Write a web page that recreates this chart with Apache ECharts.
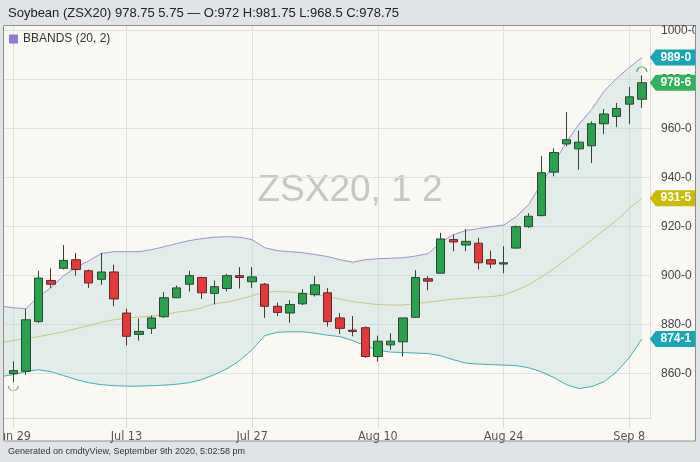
<!DOCTYPE html>
<html><head><meta charset="utf-8">
<script src="https://cdn.jsdelivr.net/npm/echarts@6/dist/echarts.min.js"></script>
<style>html,body{margin:0;padding:0;background:#e1e4e7;} #c{width:700px;height:462px;}</style>
</head><body><div id="c"></div>
<script>
// ---- data ----
// trading days; the band arrays start one day before the first candle
const dates = ['Jun 26','Jun 29','Jun 30','Jul 1','Jul 2','Jul 6','Jul 7','Jul 8','Jul 9','Jul 10',
  'Jul 13','Jul 14','Jul 15','Jul 16','Jul 17','Jul 20','Jul 21','Jul 22','Jul 23','Jul 24',
  'Jul 27','Jul 28','Jul 29','Jul 30','Jul 31','Aug 3','Aug 4','Aug 5','Aug 6','Aug 7',
  'Aug 10','Aug 11','Aug 12','Aug 13','Aug 14','Aug 17','Aug 18','Aug 19','Aug 20','Aug 21',
  'Aug 24','Aug 25','Aug 26','Aug 27','Aug 28','Aug 31','Sep 1','Sep 2','Sep 3','Sep 4',
  'Sep 8','Sep 9'];
// candles from Jun 29 to Sep 9
const openP  = [860,861,881.25,898,903,906.5,902,898.5,901.5,
  884.75,876,878.5,883.25,891,896.5,899.25,892.75,894.75,900,
  897.5,896.5,887.5,884.75,888.5,892.25,893,882.75,877.75,878.75,
  867,871.75,873,883,898.75,901,914.75,912.5,913.25,906.5,
  904.75,911.25,920,924.5,942.25,953.75,951.75,953,962,965,
  970,972];
const highP  = [865,886.5,902,903,912.5,909.25,902.5,909.25,904.5,
  886.5,882.5,883.75,893.25,896,902,899.5,898,900.75,903.5,
  903.5,897,889,890,894.5,899.75,895,884.75,883.5,879.25,
  875.5,876.5,882.75,902.25,899.75,917.5,916.75,919,915.5,910.25,
  912,920.5,925.5,948.75,952,966.75,959.25,963,968,970.5,
  977,981.75];
const lowP   = [856.5,859.5,880.75,895,902.5,900,895,896.25,887.5,
  871.5,873.5,876.25,882.75,890.75,893.5,890.5,888.25,893.5,894.75,
  895,882.75,883.5,880.75,888,891.5,879.25,876.25,875.25,866.5,
  865,869.75,867,882.75,894,901,910,910,902.5,903,
  901,911,919.5,924.25,940.5,952.75,943.25,946,957.75,960.75,
  962,968.5];
const closeP = [861.25,882,899,896.5,906.25,902.5,897,901.5,890.5,
  875.25,877.25,882.75,891,895,900,893,895.5,900,899.25,
  899.5,887.5,885,888.25,892.75,896.25,881.25,878.5,877.25,867,
  873.25,873.25,882.75,899.25,897.75,915,913.75,914,905.25,904.75,
  905.25,920,924.25,942,950.25,955.5,954.5,962,966,968.25,
  973,978.75];
const upperBand = [887.6,886.9,886.5,891.4,895.1,900,903.3,906.1,909,909.8,
  909.8,909.8,910.6,911.8,913.1,914.3,915.1,915.7,915.9,915.7,
  914.7,911.4,910.2,909.8,909.4,908.6,907.8,906.5,905.5,906.5,
  906.9,907.1,907.3,908,909,913.5,916.7,918.4,919.2,920,
  920.6,924,929,937.4,945.7,954.6,961.8,967.8,975.3,980.5,
  985,989];
const middleBand = [872.7,873.5,874.3,875.1,876.1,877.1,878.4,879.6,881,882,
  882.7,883.1,883.5,884.1,885.1,885.7,886.9,888.6,889.2,890.4,
  891.8,893.3,893.5,893.3,892.9,892.2,891.6,890.4,889.4,888.8,
  888.2,888,888,888.6,889.2,889.8,890.4,890.8,891.2,891.4,
  892.1,894,896.3,899.4,902.8,906.7,910.6,914.6,918.6,922.6,
  927.4,931.625];
const lowerBand = [858.8,859.6,860.8,861.6,860.8,859.2,857.6,856.3,855.5,855.1,
  854.9,854.9,855.1,855.3,855.7,856.3,857.6,859.6,862,865.3,
  869.8,875.5,876.9,877.1,877.1,876.5,875.7,875.1,873.5,871.4,
  869.6,868.8,868.6,868.4,868.2,867.3,865.7,864.3,863.9,863.7,
  863.5,863.3,862.4,860.8,858.4,855.5,853.9,854.7,856.7,860.8,
  866.5,874.125];
const xTickLabels = ['Jun 29','Jul 13','Jul 27','Aug 10','Aug 24','Sep 8'];
const yTickValues = [860,880,900,920,940,960,980,1000];
const titleText = 'Soybean (ZSX20) 978.75 5.75 \u2014 O:972 H:981.75 L:968.5 C:978.75';
const legendText = 'BBANDS (20, 2)';
const watermarkText = 'ZSX20, 1 2';
const footerText = 'Generated on cmdtyView, September 9th 2020, 5:02:58 pm';

// ---- helpers ----
const pos = dates.map((d, i) => i);
const last = dates.length - 1;
const firstTick = dates.indexOf(xTickLabels[0]);
const candleStart = dates.indexOf('Jun 29');
const cLast = closeP.length - 1;
const fmt = v => Math.floor(v) + '-' + Math.round((v - Math.floor(v)) * 8);
const FONT = "'Liberation Sans', Arial, sans-serif";
const NARROW = "'Liberation Sans Narrow', 'DejaVu Sans Condensed', 'Liberation Sans', sans-serif";
const BG = '#e1e4e7';
const tagPath = 'path://M0,8 L6,0 L46,0 L46,16 L6,16 Z';

function tag(value, color, x) {
  return {
    coord: [x, value], value: value,
    symbol: tagPath, symbolSize: [46, 16], symbolKeepAspect: false,
    symbolOffset: [31, 0],
    itemStyle: { color: color },
    label: { show: true, position: 'inside', offset: [3, 0], color: '#fff',
      fontWeight: 'bold', fontSize: 12, fontFamily: FONT, formatter: p => fmt(p.value) }
  };
}

const chart = echarts.init(document.getElementById('c'), null, { renderer: 'canvas' });
chart.setOption({
  animation: false,
  backgroundColor: 'transparent',
  grid: { left: 4, right: 50, top: 26, bottom: 44, containLabel: false, outerBoundsMode: 'none' },
  legend: {
    left: 9, top: 33, padding: 0, itemWidth: 9, itemHeight: 9, icon: 'rect',
    selectedMode: false,
    data: [{ name: legendText, itemStyle: { color: '#8f7ad6' } }],
    textStyle: { fontSize: 12, color: '#333', fontFamily: FONT }
  },
  xAxis: {
    type: 'value', min: firstTick - 0.74, max: firstTick + 50.65,
    axisLine: { show: true, lineStyle: { color: '#d9d9d9' } },
    axisTick: { show: true, length: 10, lineStyle: { color: '#d9d9d9' },
      customValues: xTickLabels.map(l => dates.indexOf(l)) },
    axisLabel: { customValues: xTickLabels.map(l => dates.indexOf(l)),
      formatter: v => dates[Math.round(v)], color: '#555', fontSize: 12.5,
      fontFamily: NARROW, margin: 12 },
    splitLine: { show: true, lineStyle: { color: '#e0e0e0' } }
  },
  yAxis: {
    type: 'value', position: 'right', min: 841.9, max: 1001.9, scale: true,
    axisLine: { show: true, lineStyle: { color: '#dcdcdc' } },
    axisTick: { show: false, customValues: yTickValues },
    axisLabel: { customValues: yTickValues, formatter: v => fmt(v), color: '#444',
      fontSize: 12, fontFamily: FONT, margin: 11, align: 'left' },
    splitLine: { show: true, lineStyle: { color: '#e0e0e0' } }
  },
  graphic: [
    { type: 'rect', z: -100, shape: { x: 3.5, y: 25.5, width: 692, height: 415.5 },
      style: { fill: '#faf8f3', stroke: '#8e8e8e', lineWidth: 1 } },
    { type: 'text', z: -50, x: 350, y: 191,
      style: { text: watermarkText, fill: '#c6c6c6', font: "37px 'Liberation Sans', Arial, sans-serif",
        align: 'center', verticalAlign: 'middle' } },
    { type: 'text', z: 10, x: 8, y: 13,
      style: { text: titleText, fill: '#222', font: "13px 'Liberation Sans', Arial, sans-serif",
        verticalAlign: 'middle' } },
    { type: 'text', z: 10, x: 8, y: 452,
      style: { text: footerText, fill: '#333', font: "9px 'Liberation Sans', Arial, sans-serif",
        verticalAlign: 'middle' } },
    { type: 'rect', z: 100, shape: { x: 0, y: 20, width: 4, height: 425 }, style: { fill: BG } },
    { type: 'rect', z: 100, shape: { x: 696, y: 20, width: 4, height: 425 }, style: { fill: BG } },
    { type: 'line', z: 101, shape: { x1: 3.5, y1: 25.5, x2: 3.5, y2: 441 }, style: { stroke: '#8e8e8e', lineWidth: 1 } },
    { type: 'line', z: 101, shape: { x1: 695.5, y1: 25.5, x2: 695.5, y2: 441 }, style: { stroke: '#8e8e8e', lineWidth: 1 } }
  ],
  series: [
    {
      name: legendText, type: 'custom', clip: true, silent: true, z: 1,
      data: [[pos[0], upperBand[0]]], encode: { x: 0, y: 1 },
      renderItem: function (params, api) {
        if (params.dataIndex !== 0) return null;
        const pts = [];
        for (let i = 0; i < pos.length; i++) pts.push(api.coord([pos[i], upperBand[i]]));
        for (let i = pos.length - 1; i >= 0; i--) pts.push(api.coord([pos[i], lowerBand[i]]));
        return { type: 'polygon', shape: { points: pts }, style: { fill: 'rgba(177,215,213,0.32)' } };
      }
    },
    {
      name: 'Upper', type: 'line', z: 3, symbol: 'none', silent: true,
      data: pos.map((p, i) => [p, upperBand[i]]),
      lineStyle: { color: '#9c92cf', width: 1 },
      markPoint: { silent: true, data: [tag(upperBand[last], '#17a6b6', pos[last])] }
    },
    {
      name: 'Middle', type: 'line', z: 3, symbol: 'none', silent: true,
      data: pos.map((p, i) => [p, middleBand[i]]),
      lineStyle: { color: '#c9c77c', width: 1 },
      markPoint: { silent: true, data: [tag(middleBand[last], '#c9bc06', pos[last])] }
    },
    {
      name: 'Lower', type: 'line', z: 3, symbol: 'none', silent: true,
      data: pos.map((p, i) => [p, lowerBand[i]]),
      lineStyle: { color: '#3fb0b7', width: 1 },
      markPoint: { silent: true, data: [tag(lowerBand[last], '#17a6b6', pos[last])] }
    },
    {
      name: 'Price', type: 'candlestick', z: 5, barWidth: 9, silent: true,
      data: closeP.map((c, i) => [candleStart + i, openP[i], c, lowP[i], highP[i]]),
      encode: { x: 0, y: [1, 2, 3, 4] },
      itemStyle: { color: '#2aa14d', color0: '#e23a3a', borderColor: '#2c4634',
        borderColor0: '#5e2a2a', borderWidth: 1 },
      markPoint: { silent: true, data: [
        tag(closeP[cLast], '#2eb35a', candleStart + cLast),
        { coord: [candleStart, lowP[0]], symbol: 'path://M0,0 A10,10 0 0 0 20,0',
          symbolSize: [10, 5], symbolOffset: [0, 6], label: { show: false },
          itemStyle: { color: 'none', borderColor: '#8fb69c', borderWidth: 1 } },
        { coord: [candleStart + cLast, highP[cLast]], symbol: 'path://M0,10 A10,10 0 0 1 20,10',
          symbolSize: [10, 5], symbolOffset: [0, -6], label: { show: false },
          itemStyle: { color: 'none', borderColor: '#3aa860', borderWidth: 1 } }
      ] }
    }
  ]
});
</script></body></html>
